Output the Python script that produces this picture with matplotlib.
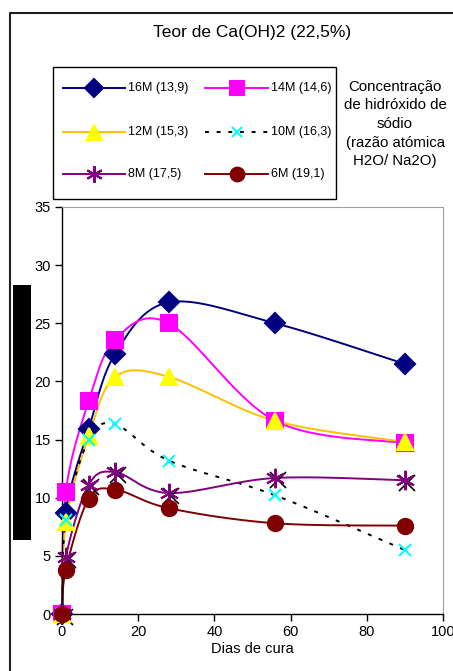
import numpy as np
import matplotlib
matplotlib.use("Agg")
import matplotlib.pyplot as plt
from matplotlib.lines import Line2D
from matplotlib.patches import Rectangle
import matplotlib.transforms as mtransforms

plt.rcParams['font.family'] = ['Liberation Sans', 'DejaVu Sans']

# Curing days
dias = [0, 1, 7, 14, 28, 56, 90]

# Values per NaOH concentration (H2O/Na2O atomic ratio)
s16M = [0, 8.7, 15.9, 22.4, 26.8, 25.0, 21.5]
s14M = [0, 10.5, 18.3, 23.6, 25.0, 16.6, 14.7]
s12M = [0, 7.9, 15.3, 20.4, 20.4, 16.6, 14.8]
s10M = [0, 8.1, 15.0, 16.3, 13.2, 10.2, 5.5]
s8M = [0, 4.9, 11.1, 12.2, 10.4, 11.7, 11.5]
s6M = [0, 3.8, 9.9, 10.7, 9.1, 7.8, 7.6]

labels = ['16M (13,9)', '14M (14,6)', '12M (15,3)', '10M (16,3)', '8M (17,5)', '6M (19,1)']

W, H = 453, 671
fig = plt.figure(figsize=(W / 100, H / 100), dpi=100)
fig.patch.set_facecolor('white')

ax = fig.add_axes([62 / W, 1 - 614 / H, (443 - 62) / W, (614 - 207) / H])
ax.set_xlim(0, 100)
ax.set_ylim(0, 35)
ax.set_xticks(range(0, 101, 20))
ax.set_yticks(range(0, 36, 5))
ax.tick_params(direction='out', length=5, width=1, labelsize=10.5, colors='black', pad=3)
for s in ['top', 'right']:
    ax.spines[s].set_color('#a0a0a0')
for s in ['left', 'bottom']:
    ax.spines[s].set_color('black')
    ax.spines[s].set_linewidth(1.0)
ax.set_xlabel('Dias de cura', fontsize=10.5, labelpad=2)
for lab in ax.get_xticklabels():
    lab.set_clip_on(False)


def smooth(xs, ys, n=30):
    """Catmull-Rom style smoothing computed in display space."""
    pts = ax.transData.transform(np.column_stack([xs, ys]))
    out = []
    m = len(pts)
    for i in range(m - 1):
        p0 = pts[i - 1] if i > 0 else pts[i]
        p1 = pts[i]
        p2 = pts[i + 1]
        p3 = pts[i + 2] if i + 2 < m else pts[i + 1]
        c1 = p1 + (p2 - p0) / 6.0
        c2 = p2 - (p3 - p1) / 6.0
        t = np.linspace(0, 1, n)[:, None]
        seg = ((1 - t) ** 3) * p1 + 3 * ((1 - t) ** 2) * t * c1 + 3 * (1 - t) * t ** 2 * c2 + t ** 3 * p2
        out.append(seg if i == 0 else seg[1:])
    out = np.vstack(out)
    data = ax.transData.inverted().transform(out)
    return data[:, 0], data[:, 1]


series = [
    dict(y=s16M, lc='#000080', ls='-', mk='D', mfc='#000080', mec='#000080', ms=10),
    dict(y=s14M, lc='#ff00ff', ls='-', mk='s', mfc='#ff00ff', mec='#ff00ff', ms=11),
    dict(y=s12M, lc='#ffc000', ls='-', mk='^', mfc='#ffff00', mec='#ffff00', ms=12),
    dict(y=s10M, lc='black', ls=(0, (2, 4)), mk='x', mfc='#00ffff', mec='#00ffff', ms=8),
    dict(y=s8M, lc='#800080', ls='-', mk=(6, 2, 0), mfc='#800080', mec='#800080', ms=14),
    dict(y=s6M, lc='#800000', ls='-', mk='o', mfc='#800000', mec='#800000', ms=11),
]

for sdef in series:
    xs, ys = smooth(dias, sdef['y'])
    ax.plot(xs, ys, color=sdef['lc'], ls=sdef['ls'], lw=1.4, zorder=2, clip_on=False)
    if sdef['mk'] == (6, 2, 0):
        # black shadow behind the star marker
        shadow = mtransforms.offset_copy(ax.transData, fig=fig, x=2.5, y=-2.5, units='dots')
        ax.plot(dias, sdef['y'], ls='none', marker='x', ms=12, mew=1.2, color='black',
                transform=shadow, zorder=3, clip_on=False)
    ax.plot(dias, sdef['y'], ls='none', marker=sdef['mk'], ms=sdef['ms'],
            mfc=sdef['mfc'], mec=sdef['mec'], mew=1.5, zorder=4, clip_on=False)

# Legend box, laid out by hand in two columns (row-major)
def fx(px):
    return px / W


def fy(py):
    return 1 - py / H


fig.add_artist(Rectangle((fx(53), fy(199)), fx(336) - fx(53), fy(67) - fy(199),
                         transform=fig.transFigure, facecolor='white',
                         edgecolor='black', lw=1.0))
col_x = [(63, 125, 128), (205, 268, 271)]
row_y = [88, 132, 174]
for k, (sdef, lab) in enumerate(zip(series, labels)):
    x0, x1, tx = col_x[k % 2]
    yy = row_y[k // 2]
    fig.add_artist(Line2D([fx(x0), fx(x1)], [fy(yy), fy(yy)], transform=fig.transFigure,
                          color=sdef['lc'], ls=sdef['ls'], lw=1.4))
    xm = (x0 + x1) / 2
    if sdef['mk'] == (6, 2, 0):
        fig.add_artist(Line2D([fx(xm)], [fy(yy)], transform=fig.transFigure, ls='none',
                              marker=(6, 2, 0), ms=12, mec=sdef['mec'], mew=1.5))
    else:
        fig.add_artist(Line2D([fx(xm)], [fy(yy)], transform=fig.transFigure, ls='none',
                              marker=sdef['mk'], ms=sdef['ms'] * 0.9, mfc=sdef['mfc'],
                              mec=sdef['mec'], mew=1.5))
    fig.text(fx(tx), fy(yy), lab, ha='left', va='center', fontsize=9.0)

fig.text(252 / W, 1 - 32 / H, 'Teor de Ca(OH)2 (22,5%)', ha='center', va='center', fontsize=12.5)
fig.text(395 / W, 1 - 124 / H,
         'Concentração\nde hidróxido de\nsódio\n(razão atómica\nH2O/ Na2O)',
         ha='center', va='center', fontsize=10.8, linespacing=1.42)

# black block along the left side
fig.add_artist(Rectangle((13 / W, 1 - 540 / H), 18 / W, 255 / H,
                         transform=fig.transFigure, facecolor='black', edgecolor='none'))

# outer chart border
fig.add_artist(Line2D([10 / W, 10 / W, 1.0], [0.0, 1 - 13 / H, 1 - 13 / H],
                      transform=fig.transFigure, color='#202020', lw=1.5))

fig.savefig('out.png', dpi=100)
